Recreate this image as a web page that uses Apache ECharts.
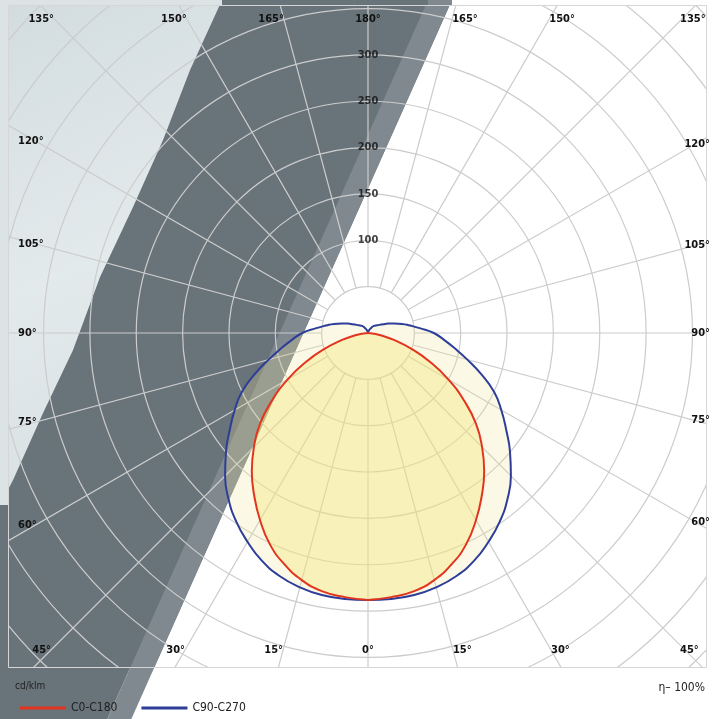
<!DOCTYPE html>
<html>
<head>
<meta charset="utf-8">
<title>Lichtverteilung</title>
<script src="https://cdn.jsdelivr.net/npm/echarts@6/dist/echarts.min.js"></script>
<style>
  html, body { margin: 0; padding: 0; background: #fff; }
  #main { width: 715px; height: 719px; }
</style>
</head>
<body>
<div id="main"></div>
<script>
// Lichtstärke cd/klm je Ebene, eine Hälfte (die andere wird gespiegelt)
var c0Angles  = [0, 5, 10, 15, 20, 25, 30, 35, 40, 45, 50, 55, 60, 65, 70, 75, 80, 85, 90];
var c0Values  = [288, 286, 283, 276, 265, 251, 233, 214, 195, 174, 152, 126, 100, 74, 50, 29, 14, 5, 0];
var c90Angles = [0, 5, 10, 15, 20, 25, 30, 35, 40, 45, 50, 55, 60, 65, 70, 75, 80, 85, 90,
                 95, 100, 105, 110, 115, 120, 130, 140, 150, 160, 170, 180];
var c90Values = [288, 288, 287, 284, 279, 271, 260, 248, 234, 218, 200, 182, 166, 150, 130, 111, 95, 82, 71,
                 57, 46, 38, 30, 24, 19, 13, 10, 6, 3, 1, 0];
var ringLabels  = [100, 150, 200, 250, 300];
var frameAngles = [0, 15, 30, 45, 60, 75, 90, 105, 120, 135, 150, 165, 180];
var legendNames = ['C0-C180', 'C90-C270'];

var CX = 368, CY = 333;          // Mittelpunkt
var PX = 0.927;                  // px je cd/klm
var RMAX = 550;
var FONT = "'DejaVu Sans Condensed', 'DejaVu Sans', sans-serif";

// geschlossene Kurve: rechte Hälfte 0..180, linke Hälfte gespiegelt
function closedCurve(angles, values) {
  var pts = [];
  for (var i = 0; i < angles.length; i++) pts.push([values[i], angles[i]]);
  for (var j = angles.length - 1; j >= 0; j--) pts.push([values[j], 360 - angles[j]]);
  return pts;
}

// Speichen alle 15°, ab dem 50er Kreis
var spokes = [];
for (var a = 0; a < 360; a += 15) {
  spokes.push([50, a], [RMAX, a], ['-', '-']);
}

// Schatten auf dem Foto
var lightEdge = [[222, 0], [190, 70], [163, 140], [133, 207], [100, 277], [73, 350], [43, 413], [13, 480], [0, 505]];
function bandX(y) { return 452 - 0.446 * y; }
var STRIP = 24;
var C_LIGHT = '#dbe3e5', C_DARK = '#69737a', C_MID = '#7f898f';

var graphics = [];
graphics.push({ type: 'polygon', z: 0, silent: true,
  shape: { points: [[0, 0]].concat(lightEdge) },
  style: { fill: new echarts.graphic.LinearGradient(0, 0, 1, 1, [
    { offset: 0, color: '#d2dcdf' }, { offset: 0.5, color: '#e3eaec' }, { offset: 1, color: '#d4dde0' }]) } });
graphics.push({ type: 'polygon', z: 0, silent: true,
  shape: { points: [[222, 0], [bandX(0), 0], [bandX(719), 719], [0, 719]].concat(lightEdge.slice().reverse()) },
  style: { fill: C_DARK } });
graphics.push({ type: 'polygon', z: 0, silent: true,
  shape: { points: [[bandX(0) - STRIP, 0], [bandX(0), 0], [bandX(719), 719], [bandX(719) - STRIP, 719]] },
  style: { fill: C_MID } });

// Abdeckung außerhalb des Rahmens
function rect(x, y, w, h, fill) {
  return { type: 'rect', z: 10, silent: true, shape: { x: x, y: y, width: w, height: h }, style: { fill: fill } };
}
graphics.push(rect(0, 0, 715, 5, '#fff'));
graphics.push(rect(0, 0, 222, 5, C_LIGHT));
graphics.push(rect(222, 0, bandX(0) - STRIP - 222, 5, C_DARK));
graphics.push(rect(bandX(0) - STRIP, 0, STRIP, 5, C_MID));
graphics.push(rect(707, 0, 8, 719, '#fff'));
graphics.push(rect(0, 668, 715, 51, '#fff'));
graphics.push(rect(0, 0, 8, 505, C_LIGHT));
graphics.push(rect(0, 505, 8, 214, C_DARK));
graphics.push({ type: 'polygon', z: 10, silent: true,
  shape: { points: [[0, 668], [bandX(668) - STRIP, 668], [bandX(719) - STRIP, 719], [0, 719]] }, style: { fill: C_DARK } });
graphics.push({ type: 'polygon', z: 10, silent: true,
  shape: { points: [[bandX(668) - STRIP, 668], [bandX(668), 668], [bandX(719), 719], [bandX(719) - STRIP, 719]] }, style: { fill: C_MID } });
graphics.push({ type: 'rect', z: 11, silent: true, shape: { x: 8.5, y: 5.5, width: 698, height: 662 },
  style: { fill: null, stroke: '#d6d6d6', lineWidth: 1 } });

// Winkelbeschriftung am Rahmen
var LX = 36, RX = 695, TOP = 19, BOT = 650;
function frameLabel(deg, side) {
  var rad = deg * Math.PI / 180, s = Math.sin(rad), c = Math.cos(rad);
  var x, y, align;
  if (side === 0) {
    x = CX; y = c > 0 ? BOT : TOP; align = 'center';
  } else {
    var avail = side < 0 ? CX - LX : RX - CX;
    y = CY + c * avail / s;
    if (y >= TOP && y <= BOT) {
      x = side < 0 ? 18 : 710; align = side < 0 ? 'left' : 'right';
    } else {
      y = c > 0 ? BOT : TOP;
      x = CX + side * Math.abs(y - CY) * s / Math.abs(c);
      align = side < 0 ? 'right' : 'left';
      if (side > 0 && x > 680) x = 680;
      if (side < 0 && x < 50) x = 50;
    }
  }
  return { type: 'text', z: 12, silent: true, x: x, y: y,
    style: { text: deg + '°', fill: '#111', font: 'bold 11px ' + FONT, textAlign: align, textVerticalAlign: 'middle' } };
}
frameAngles.forEach(function (d) {
  if (d === 0 || d === 180) graphics.push(frameLabel(d, 0));
  else { graphics.push(frameLabel(d, -1)); graphics.push(frameLabel(d, 1)); }
});

graphics.push({ type: 'text', z: 12, silent: true, x: 15, y: 686,
  style: { text: 'cd/klm', fill: '#222', font: '10px ' + FONT, textVerticalAlign: 'middle' } });
graphics.push({ type: 'text', z: 12, silent: true, x: 705, y: 688,
  style: { text: 'η– 100%', fill: '#222', font: '12px ' + FONT, textAlign: 'right', textVerticalAlign: 'middle' } });

var chart = echarts.init(document.getElementById('main'));
chart.setOption({
  animation: false,
  backgroundColor: '#fff',
  polar: { center: [CX, CY], radius: RMAX * PX },
  angleAxis: {
    type: 'value', min: 0, max: 360, startAngle: 270, clockwise: false, z: 1,
    axisLine: { show: false }, axisTick: { show: false }, axisLabel: { show: false }, splitLine: { show: false }
  },
  radiusAxis: {
    type: 'value', min: 0, max: RMAX, interval: 50, z: 1,
    axisLine: { show: false }, axisTick: { show: false }, axisLabel: { show: false },
    splitLine: { show: true, lineStyle: { color: '#cccccc', width: 1.2 } }
  },
  legend: {
    data: legendNames, left: 15, top: 697, z: 12, icon: 'rect', itemWidth: 46, itemHeight: 3, itemGap: 24,
    textStyle: { fontFamily: FONT, fontSize: 12, color: '#222' }, selectedMode: false
  },
  graphic: graphics,
  series: [
    {
      type: 'line', coordinateSystem: 'polar', data: spokes, z: 1, silent: true,
      symbol: 'none', connectNulls: false, lineStyle: { color: '#cccccc', width: 1.2 }
    },
    {
      name: 'C90-C270', type: 'line', coordinateSystem: 'polar', z: 3, silent: true,
      data: closedCurve(c90Angles, c90Values), symbol: 'none', smooth: 0.5,
      itemStyle: { color: '#2d3d98' }, lineStyle: { color: '#2d3d98', width: 2 },
      areaStyle: { color: 'rgba(238,226,150,0.35)' }
    },
    {
      name: 'C0-C180', type: 'line', coordinateSystem: 'polar', z: 3, silent: true,
      data: closedCurve(c0Angles, c0Values), symbol: 'none', smooth: 0.5,
      itemStyle: { color: '#e2351f' }, lineStyle: { color: '#e2351f', width: 2 },
      areaStyle: { color: 'rgba(245,230,115,0.55)' }
    },
    {
      type: 'scatter', coordinateSystem: 'polar', z: 5, silent: true, symbolSize: 0,
      data: ringLabels.map(function (v) { return [v, 180]; }),
      label: { show: true, position: 'inside', formatter: function (p) { return p.value[0]; },
        fontFamily: FONT, fontSize: 11, fontWeight: 'bold', color: '#111' }
    }
  ]
});
</script>
</body>
</html>
